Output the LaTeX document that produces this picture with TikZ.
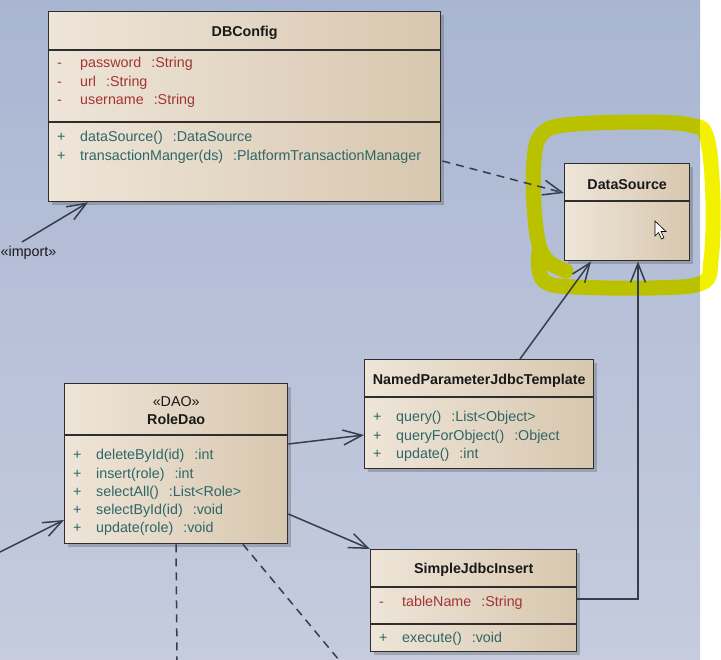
\documentclass[tikz,border=0pt]{standalone}
\usepackage{fontspec}
\setmainfont{Liberation Sans}
\usetikzlibrary{arrows.meta,shadows,calc}
\definecolor{bgtop}{HTML}{A9B6D2}
\definecolor{bgbot}{HTML}{C6CCDE}
\definecolor{boxl}{HTML}{EEE5D8}
\definecolor{boxr}{HTML}{D8C7AF}
\definecolor{boxline}{HTML}{2E2E2E}
\definecolor{attrred}{HTML}{A33434}
\definecolor{methteal}{HTML}{2E6666}
\definecolor{linecol}{HTML}{363D4B}
\definecolor{hlolive}{HTML}{BAC200}
\definecolor{hlyellow}{HTML}{F2F200}
\newcommand\umlvis[1]{\makebox[23pt][l]{#1}}
\newcommand\tsep{\hspace{10pt}}
\newcommand\myhlpath{plot[smooth, tension=0.6] coordinates {(566,271) (549,262) (539,245) (534,205) (534,160) (541,135) (565,125) (640,122) (690,125) (707,138) (713,200) (711,260) (702,283) (650,288) (575,287) (547,283) (539,270) (539,252)}}
\begin{document}
\begin{tikzpicture}[x=1pt,y=-1pt,
  every node/.style={font=\fontsize{14.3}{17}\selectfont},
  umlbox/.style={draw=boxline, line width=1.4pt, anchor=north west, inner sep=0pt,
    left color=boxl, right color=boxr,
    drop shadow={opacity=0.3, shadow xshift=3pt, shadow yshift=-3pt, fill=black!70}},
  sepline/.style={draw=boxline, line width=1.2pt},
  ctitle/.style={font=\fontsize{14.3}{17}\selectfont\bfseries, text=black!90, inner sep=0pt},
  stereo/.style={text=black!90, inner sep=0pt},
  attr/.style={anchor=west, inner sep=0pt, text=attrred},
  meth/.style={anchor=west, inner sep=0pt, text=methteal},
  assoc/.style={draw=linecol, line width=1.5pt},
  depend/.style={assoc, dash pattern=on 8pt off 6pt},
  opentip/.style={-{Straight Barb[length=19pt,width=15pt,line width=1.5pt]}},
]
\fill[white] (0,0) rectangle (721,660);
\useasboundingbox (0,0) rectangle (721,660);
\node[anchor=north west, minimum width=700pt, minimum height=660pt, inner sep=0pt,
  top color=bgtop, bottom color=bgbot] (bg) at (0,0) {};

% DBConfig
\node[umlbox, minimum width=392pt, minimum height=190pt] (db) at (48,11) {};
\draw[sepline] ($(db.north west)+(0,39)$) -- ($(db.north east)+(0,39)$);
\draw[sepline] ($(db.north west)+(0,111)$) -- ($(db.north east)+(0,111)$);
\node[ctitle] (dbt) at ($(db.north)+(0,22)$) {DBConfig};
\node[attr] (dba1) at (57,64) {\umlvis{-}password\tsep:String};
\node[attr] (dba2) at (57,83) {\umlvis{-}url\tsep:String};
\node[attr] (dba3) at (57,101) {\umlvis{-}username\tsep:String};
\node[meth] (dbm1) at (57,138) {\umlvis{+}dataSource()\tsep:DataSource};
\node[meth] (dbm2) at (57,157) {\umlvis{+}transactionManger(ds)\tsep:PlatformTransactionManager};

% DataSource
\node[umlbox, minimum width=125pt, minimum height=97pt] (ds) at (564,163) {};
\draw[sepline] ($(ds.north west)+(0,38)$) -- ($(ds.north east)+(0,38)$);
\node[ctitle] (dst) at ($(ds.north)+(0,22)$) {DataSource};

% NamedParameterJdbcTemplate
\node[umlbox, minimum width=229pt, minimum height=109pt] (np) at (364,359) {};
\draw[sepline] ($(np.north west)+(0,38)$) -- ($(np.north east)+(0,38)$);
\node[ctitle] (npt) at ($(np.north)+(0,22)$) {NamedParameterJdbcTemplate};
\node[meth] (npm1) at (373,418) {\umlvis{+}query()\tsep:List<Object>};
\node[meth] (npm2) at (373,437) {\umlvis{+}queryForObject()\tsep:Object};
\node[meth] (npm3) at (373,455) {\umlvis{+}update()\tsep:int};

% RoleDao
\node[umlbox, minimum width=223pt, minimum height=160pt] (rd) at (64,383) {};
\draw[sepline] ($(rd.north west)+(0,52)$) -- ($(rd.north east)+(0,52)$);
\node[stereo] (rds) at ($(rd.north)+(0,19)$) {«DAO»};
\node[ctitle] (rdt) at ($(rd.north)+(0,36)$) {RoleDao};
\node[meth] (rdm1) at (73,456) {\umlvis{+}deleteById(id)\tsep:int};
\node[meth] (rdm2) at (73,475) {\umlvis{+}insert(role)\tsep:int};
\node[meth] (rdm3) at (73,493) {\umlvis{+}selectAll()\tsep:List<Role>};
\node[meth] (rdm4) at (73,511) {\umlvis{+}selectById(id)\tsep:void};
\node[meth] (rdm5) at (73,529) {\umlvis{+}update(role)\tsep:void};

% SimpleJdbcInsert
\node[umlbox, minimum width=206pt, minimum height=102pt] (sj) at (370,549) {};
\draw[sepline] ($(sj.north west)+(0,38)$) -- ($(sj.north east)+(0,38)$);
\draw[sepline] ($(sj.north west)+(0,75)$) -- ($(sj.north east)+(0,75)$);
\node[ctitle] (sjt) at ($(sj.north)+(0,21)$) {SimpleJdbcInsert};
\node[attr] (sja1) at (379,603) {\umlvis{-}tableName\tsep:String};
\node[meth] (sjm1) at (379,639) {\umlvis{+}execute()\tsep:void};

% highlight
\begin{scope}
  \clip (0,0) rectangle (700,660);
  \draw[hlolive, line width=15pt, line cap=round, line join=round] \myhlpath;
\end{scope}
\begin{scope}
  \clip (700,0) rectangle (721,660);
  \draw[hlyellow, line width=15pt, line cap=round, line join=round] \myhlpath;
\end{scope}

% cursor
\filldraw[fill=white, draw=black, line width=0.6pt] (655,221) -- (655,236) -- (658.5,232.5) -- (661.5,239) -- (664,238) -- (661,231.5) -- (666,231.5) -- cycle;

% connectors
\coordinate (impstart) at (22,242);
\coordinate (impend) at ($(db.south west)+(40,0)$);
\draw[assoc, opentip] (impstart) -- (impend);
\node[stereo] (imptext) at (28.5,253) {«import»};

\coordinate (depstart) at ($(db.north east)+(1,150)$);
\coordinate (depend) at ($(ds.north west)+(0,30)$);
\draw[depend, opentip] (depstart) -- (depend);

\draw[assoc, opentip] ($(np.north west)+(156,0)$) -- ($(ds.south west)+(27,0)$);
\draw[assoc, opentip] ($(sj.north east)+(0,50)$) -| ($(ds.south west)+(74,0)$);
\draw[assoc, opentip] ($(rd.north east)+(0,61)$) -- ($(np.north west)+(0,76)$);
\draw[assoc, opentip] ($(rd.north east)+(0,131)$) -- (sj.north west);

\coordinate (leftin) at (0,552);
\draw[assoc, opentip] (leftin) -- ($(rd.north west)+(0,137)$);

\coordinate (downend) at (177,660);
\draw[depend] ($(rd.south west)+(112,0)$) -- (downend);
\coordinate (diagend) at (339,660);
\draw[depend] ($(rd.south west)+(179,0)$) -- (diagend);
\end{tikzpicture}
\end{document}
